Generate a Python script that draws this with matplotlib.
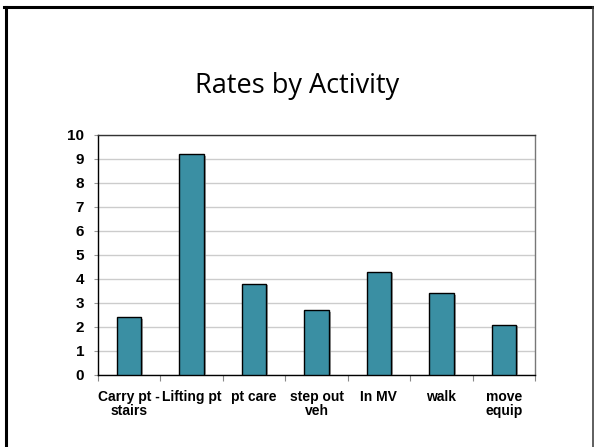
import matplotlib
matplotlib.use("Agg")
import matplotlib.pyplot as plt
import matplotlib.patheffects as pe
from matplotlib.lines import Line2D
import numpy as np

categories = ["Carry pt -\nstairs", "Lifting pt", "pt care", "step out\nveh",
              "In MV", "walk", "move\nequip"]
rates = [2.4, 9.2, 3.8, 2.7, 4.3, 3.4, 2.1]
yticks = list(range(0, 11))

W, H = 594, 447
fig = plt.figure(figsize=(W / 100, H / 100), dpi=100)
fig.patch.set_facecolor("white")

# slide frame (open at the bottom)
px = lambda x: x / W
py = lambda y: 1 - y / H
fig.add_artist(Line2D([px(5.5), px(5.5)], [py(7), py(H + 5)], color="black",
                      lw=2.2, transform=fig.transFigure))
fig.add_artist(Line2D([px(4), px(593)], [py(7), py(7)], color="black",
                      lw=2.2, transform=fig.transFigure))
fig.add_artist(Line2D([px(592.5), px(592.5)], [py(7), py(H + 5)], color="#333333",
                      lw=1.1, transform=fig.transFigure))

fig.text(0.5, py(93), "Rates by Activity", ha="center", va="baseline",
         fontsize=19.5, family="Open Sans", color="black")

ax = fig.add_axes([98 / W, (H - 375) / H, 437 / W, (375 - 135) / H])
x = np.arange(len(categories))
bars = ax.bar(x, rates, width=0.39, color="#3A8FA3", edgecolor="black",
              linewidth=1.0, zorder=3)
for b in bars:
    b.set_path_effects([pe.SimplePatchShadow(offset=(1.5, -1), shadow_rgbFace="#888888",
                                             alpha=0.8), pe.Normal()])

ax.set_xlim(-0.5, len(categories) - 0.5)
ax.set_ylim(0, 10)
ax.set_yticks(yticks)
ax.set_yticklabels([str(v) for v in yticks], fontsize=11, fontweight="bold",
                   family="Liberation Sans")
ax.yaxis.grid(True, color="#cccccc", linewidth=1.0, zorder=0)
ax.set_axisbelow(True)
ax.tick_params(axis="y", length=3, color="#999999", pad=7)

ax.set_xticks(np.arange(-0.5, len(categories), 1.0))
ax.set_xticklabels([])
ax.tick_params(axis="x", which="major", direction="out", length=4, color="#888888")
ax.set_xticks(x, minor=True)
ax.set_xticklabels(categories, minor=True, fontsize=10, fontweight="bold",
                   family="Liberation Sans", linespacing=1.0)
ax.tick_params(axis="x", which="minor", length=0, pad=11)

for s in ax.spines.values():
    s.set_color("black")
    s.set_linewidth(1.0)
ax.spines["right"].set_color("#777777")
ax.spines["top"].set_color("#333333")

fig.savefig("out.png", dpi=100)
